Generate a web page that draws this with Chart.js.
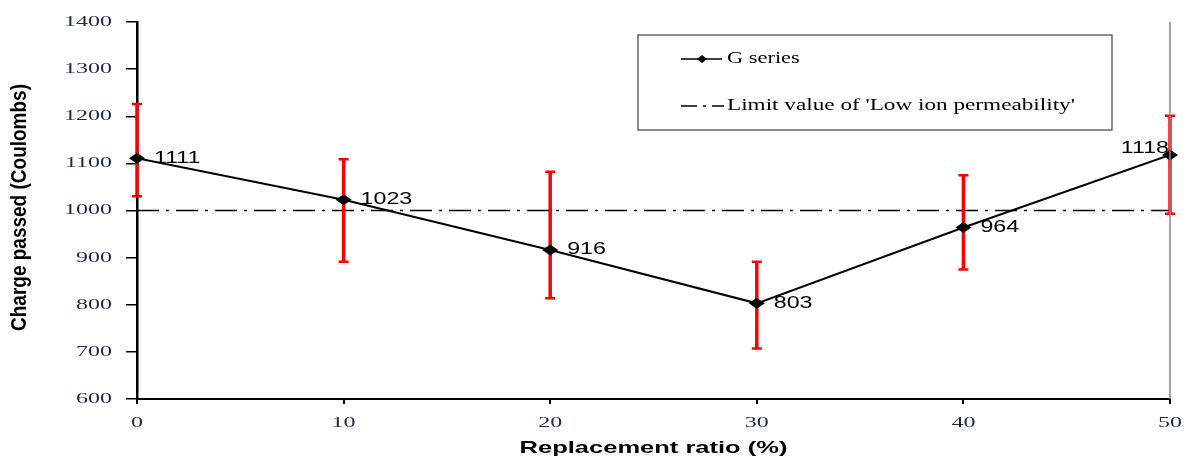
<!DOCTYPE html>
<html>
<head>
<meta charset="utf-8">
<script src="https://cdn.jsdelivr.net/npm/chart.js@4.4.1/dist/chart.umd.min.js"></script>
<style>
  html, body { margin: 0; padding: 0; background: #fff; }
  #wrap { width: 1187px; height: 458px; position: relative; }
</style>
</head>
<body>
<div id="wrap"><canvas id="chargeChart"></canvas></div>
<script>
// ---- data ----
const ratios = [0, 10, 20, 30, 40, 50];
const chargePassed = [1111, 1023, 916, 803, 964, 1118];
const errLow = [1030, 891, 814, 707, 875, 993];
const errHigh = [1226, 1109, 1082, 891, 1075, 1201];
const limitValue = 1000;
const seriesName = 'G series';
const limitName = "Limit value of 'Low ion permeability'";
const xTitle = 'Replacement ratio (%)';
const yTitle = 'Charge passed (Coulombs)';

const tickColor = '#1c2a48';
const serif = '"Liberation Serif", "Times New Roman", serif';
const sans = '"Liberation Sans", Arial, sans-serif';

// the source figure is stretched sideways, so text is drawn with a horizontal scale
function wideText(ctx, text, x, y, sx, align) {
    ctx.save();
    ctx.translate(x, y);
    ctx.scale(sx, 1);
    ctx.textAlign = align;
    ctx.fillText(text, 0, 0);
    ctx.restore();
}

function drawDiamond(ctx, cx, cy, hw, hh) {
    ctx.beginPath();
    ctx.moveTo(cx, cy - hh);
    ctx.lineTo(cx + hw, cy);
    ctx.lineTo(cx, cy + hh);
    ctx.lineTo(cx - hw, cy);
    ctx.closePath();
    ctx.fill();
}

// red error bars with caps, drawn through the scales
const errorBars = {
    id: 'errorBars',
    afterDatasetsDraw(chart) {
        const { ctx, scales: { x, y } } = chart;
        ctx.save();
        ctx.strokeStyle = '#ff0000';
        ctx.lineWidth = 3.5;
        ratios.forEach((r, i) => {
            const px = x.getPixelForValue(r);
            const top = y.getPixelForValue(errHigh[i]);
            const bot = y.getPixelForValue(errLow[i]);
            ctx.beginPath();
            ctx.moveTo(px, top); ctx.lineTo(px, bot);
            ctx.stroke();
            ctx.lineWidth = 2.5;
            ctx.beginPath();
            ctx.moveTo(px - 5, top); ctx.lineTo(px + 5, top);
            ctx.moveTo(px - 5, bot); ctx.lineTo(px + 5, bot);
            ctx.stroke();
            ctx.lineWidth = 3.5;
        });
        // markers sit on top of the bars
        const meta = chart.getDatasetMeta(0);
        ctx.fillStyle = '#000';
        meta.data.forEach(pt => drawDiamond(ctx, pt.x, pt.y, 8, 5.5));
        ctx.restore();
    }
};

// value labels beside each point
const valueLabels = {
    id: 'valueLabels',
    afterDatasetsDraw(chart) {
        const { ctx } = chart;
        const meta = chart.getDatasetMeta(0);
        ctx.save();
        ctx.font = '16px ' + sans;
        ctx.fillStyle = '#000';
        ctx.textBaseline = 'middle';
        meta.data.forEach((pt, i) => {
            const last = i === meta.data.length - 1;
            if (last) wideText(ctx, String(chargePassed[i]), pt.x - 1, pt.y - 6, 1.45, 'right');
            else wideText(ctx, String(chargePassed[i]), pt.x + 17, pt.y, 1.45, 'left');
        });
        ctx.restore();
    }
};

// tick labels and axis titles
const axisText = {
    id: 'axisText',
    afterDraw(chart) {
        const { ctx, chartArea, scales: { x, y } } = chart;
        ctx.save();
        ctx.fillStyle = tickColor;
        ctx.font = '15px ' + serif;
        ctx.textBaseline = 'middle';
        y.ticks.forEach(t => {
            wideText(ctx, String(t.value), 112, y.getPixelForValue(t.value), 1.6, 'right');
        });
        x.ticks.forEach(t => {
            wideText(ctx, String(t.value), x.getPixelForValue(t.value), 423, 1.6, 'center');
        });

        ctx.fillStyle = '#000';
        ctx.font = 'bold 17px ' + sans;
        wideText(ctx, xTitle, (chartArea.left + chartArea.right) / 2, 448, 1.5, 'center');

        ctx.save();
        ctx.translate(20, (chartArea.top + chartArea.bottom) / 2 - 3);
        ctx.scale(1.15, 1);
        ctx.rotate(-Math.PI / 2);
        ctx.font = 'bold 19px ' + sans;
        ctx.textAlign = 'center';
        ctx.fillText(yTitle, 0, 0);
        ctx.restore();
        ctx.restore();
    }
};

// boxed legend inside the plot + gray right border
const boxLegend = {
    id: 'boxLegend',
    afterDraw(chart) {
        const { ctx, chartArea } = chart;
        ctx.save();
        ctx.strokeStyle = '#888';
        ctx.lineWidth = 1.5;
        ctx.beginPath();
        ctx.moveTo(chartArea.right, chartArea.top);
        ctx.lineTo(chartArea.right, chartArea.bottom);
        ctx.stroke();

        const bx = 638, by = 35, bw = 474, bh = 95;
        ctx.fillStyle = '#fff';
        ctx.fillRect(bx, by, bw, bh);
        ctx.strokeStyle = '#444';
        ctx.lineWidth = 1.2;
        ctx.strokeRect(bx, by, bw, bh);

        ctx.strokeStyle = '#000';
        ctx.lineWidth = 1.6;
        ctx.beginPath();
        ctx.moveTo(681, 59); ctx.lineTo(722, 59);
        ctx.stroke();
        ctx.fillStyle = '#000';
        drawDiamond(ctx, 702, 59, 5, 4);

        ctx.setLineDash([16, 6, 3, 6]);
        ctx.beginPath();
        ctx.moveTo(681, 106); ctx.lineTo(724, 106);
        ctx.stroke();
        ctx.setLineDash([]);

        ctx.font = '16px ' + serif;
        ctx.fillStyle = '#000';
        ctx.textBaseline = 'middle';
        wideText(ctx, seriesName, 727, 59, 1.4, 'left');
        wideText(ctx, limitName, 727, 106, 1.45, 'left');
        ctx.restore();
    }
};

new Chart(document.getElementById('chargeChart'), {
    type: 'line',
    data: {
        datasets: [
            {
                label: seriesName,
                data: ratios.map((r, i) => ({ x: r, y: chargePassed[i] })),
                borderColor: '#000',
                borderWidth: 2,
                pointRadius: 0,
                tension: 0,
                fill: false
            },
            {
                label: limitName,
                data: [{ x: ratios[0], y: limitValue }, { x: ratios[ratios.length - 1], y: limitValue }],
                borderColor: '#000',
                borderWidth: 1.4,
                borderDash: [22, 7, 3, 7],
                pointRadius: 0,
                fill: false
            }
        ]
    },
    options: {
        responsive: true,
        maintainAspectRatio: false,
        animation: false,
        layout: { padding: { top: 22, right: 17, left: 0, bottom: 0 } },
        plugins: {
            legend: { display: false },
            tooltip: { enabled: false }
        },
        scales: {
            x: {
                type: 'linear',
                min: 0,
                max: 50,
                afterFit: (s) => { s.height = 59; },
                ticks: { stepSize: 10, display: false },
                grid: { display: true, drawOnChartArea: false, drawTicks: true, tickLength: 5, color: '#000', lineWidth: 2 },
                border: { display: true, color: '#000', width: 2 },
                title: { display: false }
            },
            y: {
                min: 600,
                max: 1400,
                afterFit: (s) => { s.width = 137; },
                ticks: { stepSize: 100, display: false },
                grid: { display: true, drawOnChartArea: false, drawTicks: true, tickLength: 11, color: '#000', lineWidth: 1.5 },
                border: { display: true, color: '#000', width: 2.5 },
                title: { display: false }
            }
        }
    },
    plugins: [errorBars, valueLabels, axisText, boxLegend]
});
</script>
</body>
</html>
